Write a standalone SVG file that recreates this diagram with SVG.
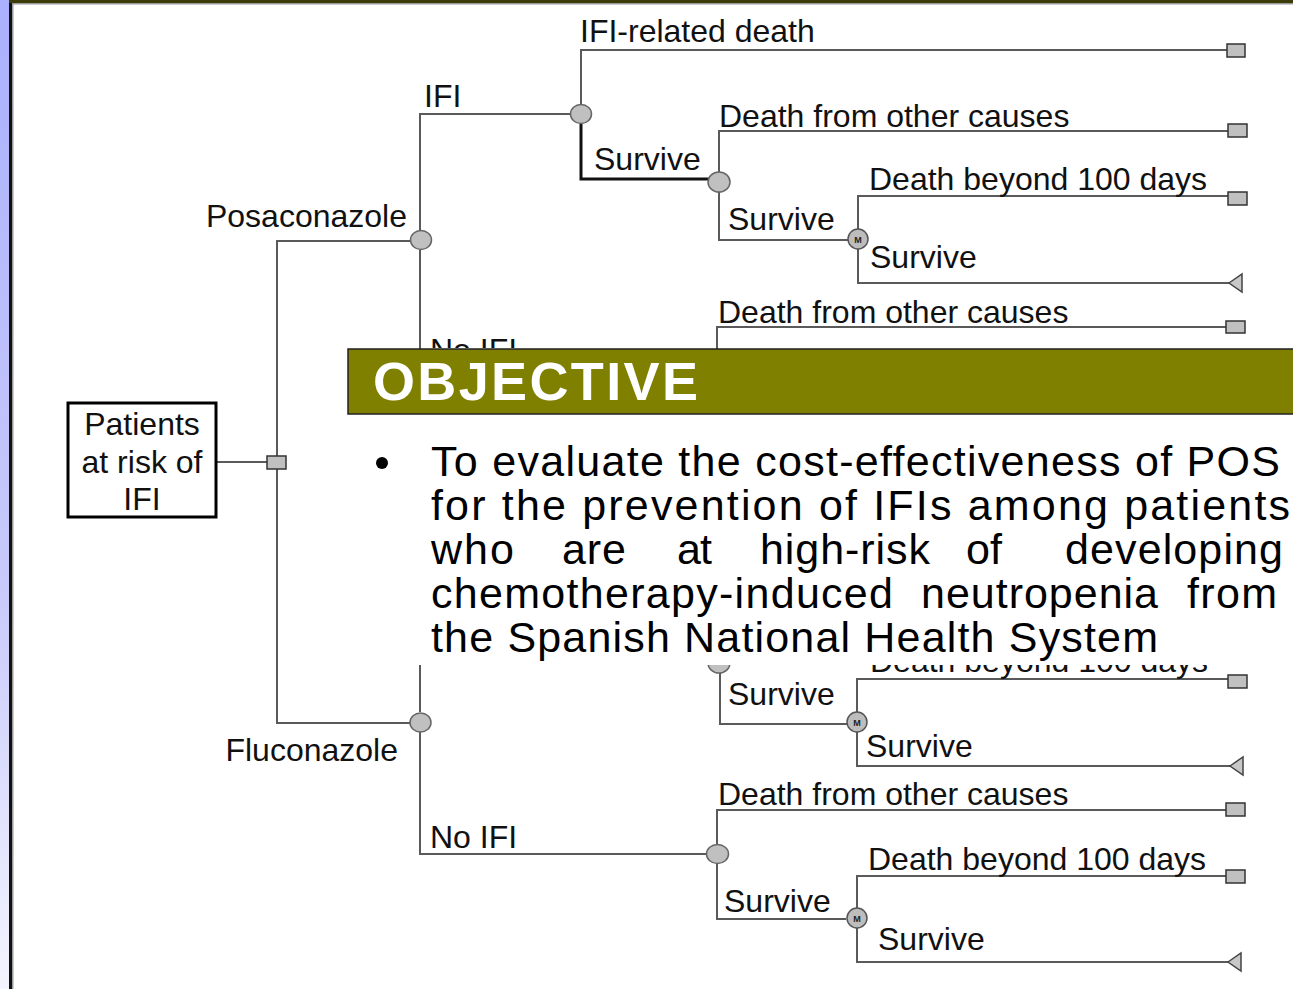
<svg xmlns="http://www.w3.org/2000/svg" width="1293" height="989" viewBox="0 0 1293 989">
  <defs>
    <linearGradient id="sideStrip" x1="0" y1="0" x2="0" y2="1">
      <stop offset="0" stop-color="#aab0fc"/>
      <stop offset="0.6" stop-color="#c8cafa"/>
      <stop offset="1" stop-color="#f4f4fe"/>
    </linearGradient>
    <!-- parts of the tree left uncovered by the objective panel -->
    <clipPath id="abovePanel"><rect x="0" y="0" width="1293" height="348"/></clipPath>
    <clipPath id="belowPanel"><rect x="0" y="665" width="1293" height="324"/></clipPath>
    <style>
      .lbl { font-family: "Liberation Sans", Arial, Helvetica, sans-serif; font-size: 32px; fill: #111; }
      .edge { fill: none; stroke: #5a5a5a; stroke-width: 2; }
      .edge-bold { fill: none; stroke: #111; stroke-width: 3; }
      .chance { fill: #c0c0c0; stroke: #666; stroke-width: 1.5; }
      .markov { fill: #bdbdbd; stroke: #555; stroke-width: 1.5; }
      .mtxt { font-family: "Liberation Sans", Arial, sans-serif; font-size: 9px; font-weight: bold; fill: #222; text-anchor: middle; }
      .term { fill: #c0c0c0; stroke: #333; stroke-width: 1.5; }
      .tri { fill: #c8c8c8; stroke: #444; stroke-width: 1.5; }
      .body { font-family: "Liberation Sans", Arial, Helvetica, sans-serif; font-size: 43px; fill: #000; }
    </style>
  </defs>

  <!-- page background and frame -->
  <rect x="0" y="0" width="1293" height="989" fill="#ffffff"/>
  <rect x="0" y="0" width="9" height="989" fill="url(#sideStrip)"/>
  <rect x="9" y="0" width="3" height="989" fill="#111"/>
  <rect x="12" y="0" width="1.5" height="989" fill="#9a9a9a"/>
  <rect x="9" y="0" width="1284" height="3" fill="#3c3c08"/>
  <rect x="12" y="3" width="1281" height="1.5" fill="#9a9a9a"/>

  <!-- connectors -->
  <g id="connectors">
    <path class="edge" d="M216,462 H267"/>
    <path class="edge" d="M410,241 H277 V723 H410"/>
    <!-- Posaconazole subtree -->
    <path class="edge" d="M420,230 V114 H570"/>
    <path class="edge" d="M420,250 V365 H706"/>
    <path class="edge" d="M581,104 V50 H1227"/>
    <path class="edge-bold" d="M581,124 V179 H709"/>
    <path class="edge" d="M719,172 V131 H1228"/>
    <path class="edge" d="M719,192 V240 H848"/>
    <path class="edge" d="M858,229 V196 H1228"/>
    <path class="edge" d="M858,249 V283 H1229"/>
    <path class="edge" d="M717,400 V327 H1226"/>
    <!-- Fluconazole subtree -->
    <path class="edge" d="M420,712 V600"/>
    <path class="edge" d="M420,732 V854 H707"/>
    <path class="edge" d="M720,673 V724 H847"/>
    <path class="edge" d="M857,712 V679 H1228"/>
    <path class="edge" d="M857,732 V766 H1230"/>
    <path class="edge" d="M717,844 V810 H1226"/>
    <path class="edge" d="M717,864 V919 H846"/>
    <path class="edge" d="M857,908 V876 H1226"/>
    <path class="edge" d="M857,928 V962 H1228"/>
  </g>

  <!-- root -->
  <g id="root">
    <rect x="68" y="403" width="148" height="114" fill="#fff" stroke="#000" stroke-width="3"/>
    <text class="lbl" x="142" y="435" text-anchor="middle">Patients</text>
    <text class="lbl" x="142" y="473" text-anchor="middle">at risk of</text>
    <text class="lbl" x="142" y="510" text-anchor="middle">IFI</text>
  </g>

  <g id="decision">
    <rect class="term" x="267" y="456" width="19" height="13"/>
  </g>

  <!-- Posaconazole arm -->
  <g id="posaconazole">
    <ellipse class="chance" cx="421" cy="240" rx="10.5" ry="9.5"/>
    <text class="lbl" x="407" y="227" text-anchor="end">Posaconazole</text>
  </g>
  <g id="posa-ifi">
    <ellipse class="chance" cx="581" cy="114" rx="10.5" ry="9.5"/>
    <text class="lbl" x="424" y="107">IFI</text>
  </g>
  <g id="posa-ifi-death">
    <text class="lbl" x="580" y="42">IFI-related death</text>
    <rect class="term" x="1227" y="44" width="18" height="13"/>
  </g>
  <g id="posa-ifi-survive">
    <ellipse class="chance" cx="719" cy="182" rx="11" ry="10"/>
    <text class="lbl" x="594" y="170">Survive</text>
  </g>
  <g id="posa-ifi-other">
    <text class="lbl" x="719" y="127">Death from other causes</text>
    <rect class="term" x="1228" y="124" width="19" height="13"/>
  </g>
  <g id="posa-ifi-markov">
    <circle class="markov" cx="858" cy="239" r="10"/>
    <text class="mtxt" x="858" y="242.5">M</text>
    <text class="lbl" x="728" y="230">Survive</text>
  </g>
  <g id="posa-ifi-beyond">
    <text class="lbl" x="869" y="190">Death beyond 100 days</text>
    <rect class="term" x="1228" y="192" width="19" height="13"/>
  </g>
  <g id="posa-ifi-alive">
    <text class="lbl" x="870" y="268">Survive</text>
    <polygon class="tri" points="1229,283 1242,274 1242,292"/>
  </g>
  <g id="posa-noifi">
    <text class="lbl" x="430" y="361" clip-path="url(#abovePanel)">No IFI</text>
  </g>
  <g id="posa-noifi-other">
    <text class="lbl" x="718" y="323">Death from other causes</text>
    <rect class="term" x="1226" y="321" width="19" height="12"/>
  </g>

  <!-- Fluconazole arm -->
  <g id="fluconazole">
    <ellipse class="chance" cx="420.5" cy="722.5" rx="10.5" ry="9.5"/>
    <text class="lbl" x="398" y="761" text-anchor="end">Fluconazole</text>
  </g>
  <g id="fluco-ifi-survive">
    <ellipse class="chance" cx="719" cy="663" rx="11" ry="10"/>
    <text class="lbl" x="870" y="672" clip-path="url(#belowPanel)">Death beyond 100 days</text>
  </g>
  <g id="fluco-ifi-markov">
    <circle class="markov" cx="857" cy="722" r="10"/>
    <text class="mtxt" x="857" y="725.5">M</text>
    <text class="lbl" x="728" y="705">Survive</text>
  </g>
  <g id="fluco-ifi-beyond">
    <rect class="term" x="1228" y="675" width="19" height="13"/>
  </g>
  <g id="fluco-ifi-alive">
    <text class="lbl" x="866" y="757">Survive</text>
    <polygon class="tri" points="1230,766 1243,757 1243,775"/>
  </g>
  <g id="fluco-noifi">
    <ellipse class="chance" cx="717.5" cy="854" rx="11" ry="9.5"/>
    <text class="lbl" x="430" y="848">No IFI</text>
  </g>
  <g id="fluco-noifi-other">
    <text class="lbl" x="718" y="805">Death from other causes</text>
    <rect class="term" x="1226" y="803" width="19" height="13"/>
  </g>
  <g id="fluco-noifi-markov">
    <circle class="markov" cx="857" cy="918" r="10"/>
    <text class="mtxt" x="857" y="921.5">M</text>
    <text class="lbl" x="724" y="912">Survive</text>
  </g>
  <g id="fluco-noifi-beyond">
    <text class="lbl" x="868" y="870">Death beyond 100 days</text>
    <rect class="term" x="1226" y="870" width="19" height="13"/>
  </g>
  <g id="fluco-noifi-alive">
    <text class="lbl" x="878" y="950">Survive</text>
    <polygon class="tri" points="1228,962 1241,953 1241,971"/>
  </g>

  <!-- objective panel laid over the tree -->
  <g id="objective">
    <rect x="348" y="349" width="950" height="316" fill="#ffffff"/>
    <rect x="348" y="349" width="950" height="65" fill="#7f7f00" stroke="#222" stroke-width="1.5"/>
    <text x="373" y="400" font-family="Liberation Sans, Arial, sans-serif" font-size="54" font-weight="bold" fill="#ffffff" textLength="325" lengthAdjust="spacing">OBJECTIVE</text>
    <circle cx="382" cy="463" r="6" fill="#000"/>
    <text class="body" x="431" y="476" textLength="849" lengthAdjust="spacing">To evaluate the cost-effectiveness of POS</text>
    <text class="body" x="431" y="520" textLength="859" lengthAdjust="spacing">for the prevention of IFIs among patients</text>
    <text class="body" x="431" y="564" textLength="83" lengthAdjust="spacing">who</text>
    <text class="body" x="562" y="564" textLength="64" lengthAdjust="spacing">are</text>
    <text class="body" x="677" y="564" textLength="35" lengthAdjust="spacing">at</text>
    <text class="body" x="760" y="564" textLength="170" lengthAdjust="spacing">high-risk</text>
    <text class="body" x="966" y="564">of</text>
    <text class="body" x="1065" y="564" textLength="218" lengthAdjust="spacing">developing</text>
    <text class="body" x="431" y="608" textLength="462" lengthAdjust="spacing">chemotherapy-induced</text>
    <text class="body" x="921" y="608" textLength="237" lengthAdjust="spacing">neutropenia</text>
    <text class="body" x="1187" y="608" textLength="90" lengthAdjust="spacing">from</text>
    <text class="body" x="431" y="652" textLength="727" lengthAdjust="spacing">the Spanish National Health System</text>
  </g>
</svg>
